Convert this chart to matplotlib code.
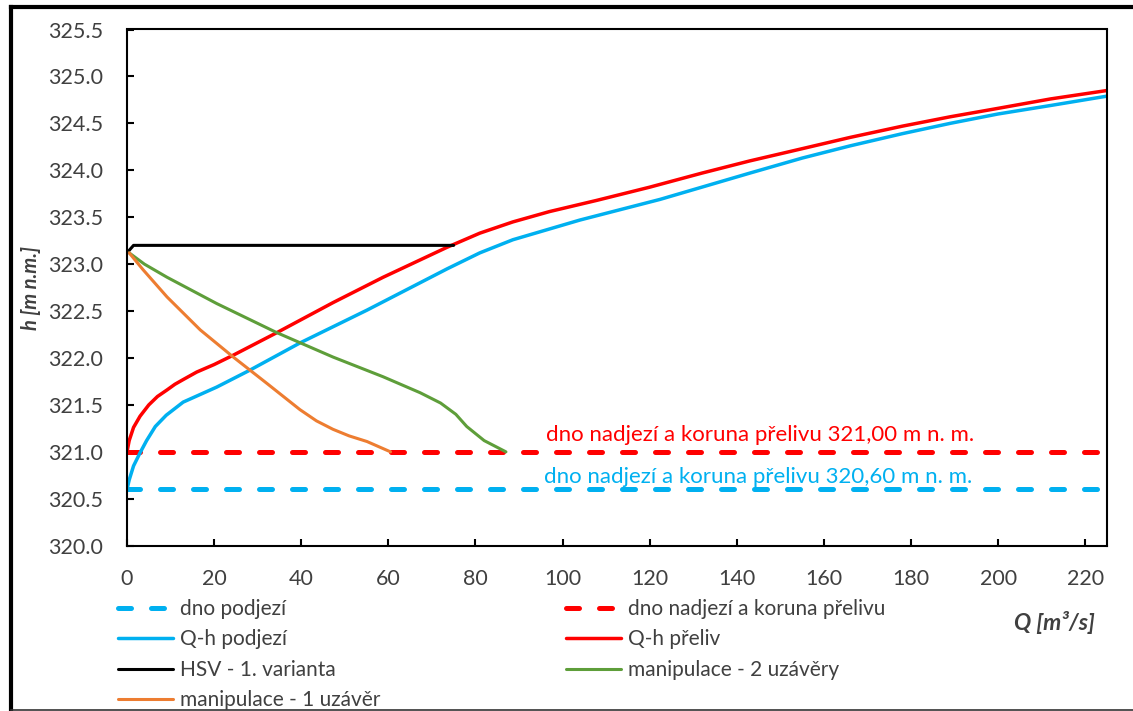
import matplotlib
matplotlib.use("Agg")
import matplotlib.pyplot as plt
from matplotlib.lines import Line2D

plt.rcParams['font.family'] = ['Lato', 'DejaVu Sans']

# Q-h curves
q_preliv = [0, 0.5, 1.5, 3, 5, 7, 9.2, 11, 12.9, 16, 20, 24.4, 34.4, 47.3, 58.8, 73.5, 81, 88.6,
            97, 107.9, 120, 132, 143, 155, 166, 178, 189, 200, 212, 225]
h_preliv = [321.0, 321.12, 321.26, 321.38, 321.5, 321.59, 321.66, 321.72, 321.77, 321.85, 321.93,
            322.03, 322.27, 322.59, 322.86, 323.18, 323.33, 323.45, 323.56, 323.68, 323.82, 323.97,
            324.1, 324.23, 324.35, 324.47, 324.57, 324.66, 324.76, 324.85]

q_podjezi = [0, 0.5, 1.5, 3, 4.5, 6.5, 9, 12.9, 20.6, 28.2, 39.7, 55.1, 73.5, 81, 88.6, 104,
             122.4, 143, 155, 166, 178, 189, 200, 212, 225]
h_podjezi = [320.6, 320.7, 320.85, 320.99, 321.12, 321.27, 321.39, 321.53, 321.69, 321.87, 322.16,
             322.51, 322.95, 323.12, 323.26, 323.47, 323.69, 323.97, 324.13, 324.26, 324.39,
             324.5, 324.6, 324.69, 324.79]

q_hsv = [0, 1.5, 75]
h_hsv = [323.12, 323.2, 323.2]

q_manip2 = [0.5, 4, 9.2, 20.6, 34.4, 47.3, 58.8, 67.3, 72, 75.5, 78, 82, 87]
h_manip2 = [323.12, 323.0, 322.86, 322.58, 322.27, 322.01, 321.80, 321.63, 321.52, 321.4,
            321.27, 321.12, 321.0]

q_manip1 = [0.5, 3.7, 9.2, 16.8, 24.4, 32.1, 39.7, 43.5, 47.3, 51, 55.1, 60.5]
h_manip1 = [323.12, 322.94, 322.65, 322.30, 322.01, 321.73, 321.45, 321.33, 321.24, 321.17,
            321.11, 321.0]

dno_podjezi = 320.6
dno_nadjezi = 321.0
q_range = [0, 225]

RED = '#FF0000'
BLUE = '#00B0F0'
GREEN = '#5E9E3A'
ORANGE = '#ED7D31'
TXT = '#404040'

W, H = 1133, 711
fig = plt.figure(figsize=(W / 100, H / 100), dpi=100)
ax = fig.add_axes([127 / W, 1 - 545.7 / H, 980 / W, 516.2 / H])

dash_kw = dict(linewidth=3.6, dash_capstyle='round', dashes=(2.6, 4.0))
line_kw = dict(solid_joinstyle='round', solid_capstyle='round')
l_dpod, = ax.plot(q_range, [dno_podjezi] * 2, color=BLUE, **dash_kw)
l_dnad, = ax.plot(q_range, [dno_nadjezi] * 2, color=RED, **dash_kw)
l_qpod, = ax.plot(q_podjezi, h_podjezi, color=BLUE, linewidth=2.5, **line_kw)
l_qpre, = ax.plot(q_preliv, h_preliv, color=RED, linewidth=2.5, **line_kw)
l_hsv, = ax.plot(q_hsv, h_hsv, color='black', linewidth=2.2, **line_kw)
l_m2, = ax.plot(q_manip2, h_manip2, color=GREEN, linewidth=2.2, **line_kw)
l_m1, = ax.plot(q_manip1, h_manip1, color=ORANGE, linewidth=2.2, **line_kw)

ax.text(145.3, 321.18, 'dno nadjezí a koruna přelivu 321,00 m n. m.', color=RED,
        fontsize=16, ha='center', va='center')
ax.text(144.9, 320.73, 'dno nadjezí a koruna přelivu 320,60 m n. m.', color=BLUE,
        fontsize=16, ha='center', va='center')

ax.set_xlim(0, 225)
ax.set_ylim(320, 325.5)
ax.set_xticks(range(0, 221, 20))
ax.set_yticks([320 + 0.5 * i for i in range(12)])
ax.set_yticklabels(['%.1f' % (320 + 0.5 * i) for i in range(12)])
ax.tick_params(direction='in', length=5, width=1.5, labelsize=15.5, labelcolor=TXT, pad=17)
for s in ax.spines.values():
    s.set_linewidth(1.5)

ax.set_ylabel('h [m n.m.]', fontsize=14.5, fontweight='bold', fontstyle='italic', color=TXT)
ax.yaxis.set_label_coords(-0.088, 0.5)
fig.text(1095 / W, 1 - 623 / H, 'Q [m³/s]', fontsize=16.5, fontweight='bold', fontstyle='italic',
         color=TXT, ha='right', va='center')

# column-first order so rows match the reference legend
handles = [l_dpod, l_qpod, l_hsv, l_m1, l_dnad, l_qpre, l_m2]
labels = ['dno podjezí', 'Q-h podjezí', 'HSV - 1. varianta', 'manipulace - 1 uzávěr',
          'dno nadjezí a koruna přelivu', 'Q-h přeliv', 'manipulace - 2 uzávěry']
leg = fig.legend(handles, labels, ncol=2, loc='upper left', bbox_to_anchor=(118 / W, 1 - 599 / H),
                 frameon=False, fontsize=15, borderpad=0, borderaxespad=0, handlelength=2.65,
                 handletextpad=0.33, columnspacing=8.9, labelspacing=0.5)
for t in leg.get_texts():
    t.set_color(TXT)

# outer picture frame
fig.add_artist(Line2D([11 / W, 11 / W], [0, 1 - 7 / H], transform=fig.transFigure, color='black', lw=3))
fig.add_artist(Line2D([11 / W, 1], [1 - 7 / H, 1 - 7 / H], transform=fig.transFigure, color='black', lw=3))
fig.add_artist(Line2D([11 / W, 1], [1 - 709.5 / H, 1 - 709.5 / H], transform=fig.transFigure,
                      color='#333333', lw=1.2))

fig.savefig('out.png', dpi=100)
